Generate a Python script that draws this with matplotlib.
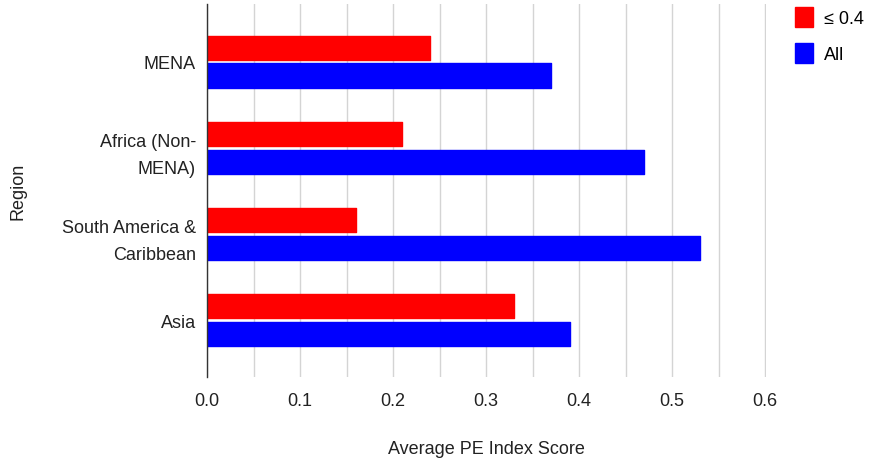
import matplotlib.pyplot as plt
import numpy as np

plt.rcParams["font.family"] = ["Liberation Sans", "DejaVu Sans"]

regions = ["MENA", "Africa (Non-\nMENA)", "South America &\nCaribbean", "Asia"]
low_scores = [0.24, 0.21, 0.16, 0.33]
all_scores = [0.37, 0.47, 0.53, 0.39]
series_labels = ["≤ 0.4", "All"]
x_ticks = [0.0, 0.1, 0.2, 0.3, 0.4, 0.5, 0.6]


def plot_pe_by_region():
    fig = plt.figure(figsize=(8.69, 4.6), dpi=100)
    ax = fig.add_axes([207 / 869, 82 / 460, (766 - 207) / 869, 373 / 460])

    y = np.arange(len(regions))
    bar_h = 0.28
    ax.barh(y - 0.16, low_scores, height=bar_h, color="#ff0000",
            edgecolor="#ff0000", linewidth=1, joinstyle="round",
            label=series_labels[0], zorder=3)
    ax.barh(y + 0.16, all_scores, height=bar_h, color="#0000ff",
            edgecolor="#0000ff", linewidth=1, joinstyle="round",
            label=series_labels[1], zorder=3)

    ax.set_xlim(0, 0.601)
    ax.set_ylim(3.66, -0.67)
    ax.set_yticks(y)
    ax.set_yticklabels(regions, fontsize=13, color="#222222", linespacing=1.75)
    ax.set_xticks(x_ticks)
    ax.set_xticklabels([f"{t:.1f}" for t in x_ticks], fontsize=13, color="#222222")
    ax.set_xticks(np.arange(0.05, 0.6, 0.1), minor=True)

    ax.tick_params(axis="both", length=0, which="both")
    ax.tick_params(axis="x", pad=11)
    ax.tick_params(axis="y", pad=8)

    ax.grid(axis="x", which="both", color="#d4d4d4", linewidth=1, zorder=0)
    for side in ["top", "right", "bottom"]:
        ax.spines[side].set_visible(False)
    ax.spines["left"].set_color("#333333")
    ax.spines["left"].set_linewidth(1)
    ax.spines["left"].set_zorder(4)

    ax.set_xlabel("Average PE Index Score", fontsize=13, color="#222222", labelpad=22)
    ax.set_ylabel("Region", fontsize=13, color="#222222")
    ax.yaxis.set_label_coords(-180 / 559, 0.5)

    fig.legend(loc="upper left", bbox_to_anchor=(779 / 869, 1 + 8 / 460),
               frameon=False, fontsize=13, handlelength=1.0, handleheight=1.3,
               labelspacing=0.9, handletextpad=0.6)

    plt.savefig("out.png", dpi=100)


if __name__ == "__main__":
    plot_pe_by_region()
